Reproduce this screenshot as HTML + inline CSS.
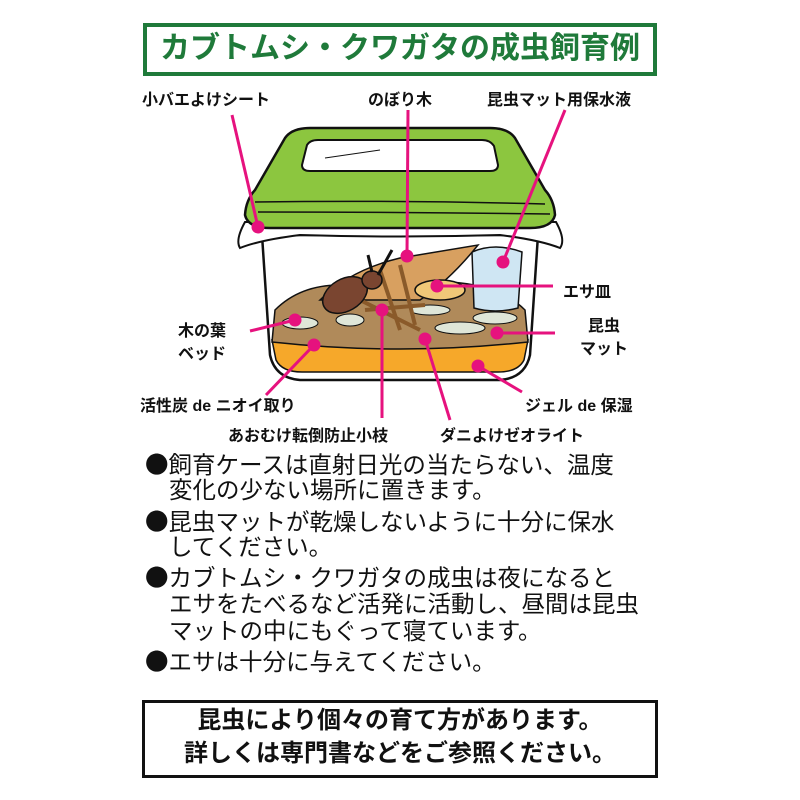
<!DOCTYPE html>
<html><head><meta charset="utf-8"><style>
body{margin:0;background:#fff;width:800px;height:800px;overflow:hidden;position:relative;font-family:"Liberation Sans","Noto Sans CJK JP",sans-serif}
.t{position:absolute;white-space:nowrap}
.lb{font-size:16px;font-weight:bold;color:#111}
.bd{position:absolute;white-space:nowrap;font-size:23.5px;color:#111;line-height:28px;height:28px;left:145px}
.bl{font-family:"Noto Sans CJK JP",sans-serif;line-height:28px}
</style></head><body>
<div class="t" style="left:143px;top:23px;width:506px;height:45px;border:4px solid #1f7a3a;"></div>
<div class="t" style="left:147px;top:26px;width:506px;text-align:center;font-size:30px;font-weight:bold;color:#1f7a3a;line-height:46px">カブトムシ・クワガタの成虫飼育例</div>

<svg class="t" style="left:0;top:0" width="800" height="460">
<path d="M262 235 L270 355 Q275 378 300 380 L500 380 Q525 378 530 355 L538 235 Z" fill="#fff" stroke="#111" stroke-width="2.5"/>
<path d="M272 340 Q400 355 528 340 L524 360 Q518 372 498 372 L302 372 Q282 372 276 360 Z" fill="#f6a82a" stroke="#111" stroke-width="1.5"/>
<path d="M275 310 Q300 285 340 285 L380 290 L450 282 Q500 285 525 310 L528 342 Q400 356 272 342 Z" fill="#b08a5a" stroke="#111" stroke-width="1.5"/>
<ellipse cx="300" cy="323" rx="18" ry="6" fill="#dfe6d8" stroke="#111"/>
<ellipse cx="460" cy="328" rx="25" ry="6" fill="#dfe6d8" stroke="#111"/>
<ellipse cx="495" cy="318" rx="22" ry="6" fill="#dfe6d8" stroke="#111"/>
<ellipse cx="430" cy="310" rx="20" ry="5" fill="#dfe6d8" stroke="#111"/>
<ellipse cx="350" cy="320" rx="14" ry="6" fill="#dfe6d8" stroke="#111"/>
<path d="M472 252 Q495 242 522 252 L518 308 Q495 314 474 308 Z" fill="#cfe6f3" stroke="#111" stroke-width="1.5"/>
<path d="M320 300 Q350 270 400 258 L478 245 Q450 280 420 300 Z" fill="#d8a060" stroke="#111" stroke-width="1.5"/>
<ellipse cx="440" cy="290" rx="25" ry="10" fill="#f0c878" stroke="#111" stroke-width="1.5"/>
<g stroke="#8a5a2a" stroke-width="4"><line x1="360" y1="300" x2="420" y2="330"/><line x1="380" y1="270" x2="400" y2="330"/><line x1="400" y1="265" x2="415" y2="325"/><line x1="365" y1="310" x2="425" y2="305"/></g>
<ellipse cx="345" cy="295" rx="24" ry="16" fill="#7a4530" stroke="#111" stroke-width="1.5" transform="rotate(-30 345 295)"/>
<ellipse cx="372" cy="280" rx="10" ry="9" fill="#7a4530" stroke="#111" stroke-width="1.5"/>
<path d="M372 272 L368 255 M378 275 L392 250" stroke="#111" stroke-width="3" fill="none"/>
<path d="M245 222 Q235 240 240 248 Q260 240 300 235 Q400 238 500 235 Q540 240 560 248 Q566 240 556 222 Z" fill="#fff" stroke="#111" stroke-width="2"/>
<path d="M245 215 Q246 200 255 190 L285 138 Q292 128 310 128 L490 128 Q508 128 515 138 L545 190 Q554 200 555 215 Q552 228 530 228 L270 228 Q248 228 245 215 Z" fill="#8cc63f" stroke="#111" stroke-width="2.5"/>
<path d="M307 145 Q310 140 318 140 L482 140 Q490 140 494 146 L498 165 Q498 171 490 171 L310 171 Q302 171 302 165 Z" fill="#fff" stroke="#111" stroke-width="2"/>
<path d="M255 202 Q400 200 545 204 M258 212 Q400 212 550 214" stroke="#111" stroke-width="1.5" fill="none"/>
<line x1="325" y1="158" x2="380" y2="150" stroke="#111"/>
<g stroke="#e6127e" stroke-width="3" fill="#e6127e">
<line x1="232" y1="115" x2="258" y2="227"/><circle cx="258" cy="227" r="5"/>
<line x1="408" y1="110" x2="407" y2="256"/><circle cx="407" cy="256" r="5"/>
<line x1="565" y1="110" x2="503" y2="262"/><circle cx="503" cy="262" r="5"/>
<line x1="437" y1="286" x2="553" y2="286"/><circle cx="437" cy="286" r="5"/>
<line x1="497" y1="333" x2="555" y2="333"/><circle cx="497" cy="333" r="5"/>
<line x1="250" y1="331" x2="295" y2="320"/><circle cx="295" cy="320" r="5"/>
<line x1="266" y1="395" x2="314" y2="345"/><circle cx="314" cy="345" r="5"/>
<line x1="382" y1="310" x2="382" y2="418"/><circle cx="382" cy="310" r="5"/>
<line x1="425" y1="339" x2="450" y2="420"/><circle cx="425" cy="339" r="5"/>
<line x1="478" y1="366" x2="522" y2="392"/><circle cx="478" cy="366" r="5"/>
</g>
</svg>

<div class="t lb" style="left:142px;top:86px">小バエよけシート</div>
<div class="t lb" style="left:368px;top:86px">のぼり木</div>
<div class="t lb" style="left:487px;top:86px">昆虫マット用保水液</div>
<div class="t lb" style="left:563px;top:278px">エサ皿</div>
<div class="t lb" style="left:580px;top:315px;line-height:23px;text-align:center">昆虫<br>マット</div>
<div class="t lb" style="left:178px;top:320px;line-height:23px">木の葉<br>ベッド</div>
<div class="t lb" style="left:140px;top:392px">活性炭 de ニオイ取り</div>
<div class="t lb" style="left:525px;top:392px">ジェル de 保湿</div>
<div class="t lb" style="left:228px;top:422px">あおむけ転倒防止小枝</div>
<div class="t lb" style="left:440px;top:422px">ダニよけゼオライト</div>

<div class="bd" style="top:449px"><span class="bl">●</span>飼育ケースは直射日光の当たらない、温度</div>
<div class="bd" style="top:476px;left:169px">変化の少ない場所に置きます。</div>
<div class="bd" style="top:506px"><span class="bl">●</span>昆虫マットが乾燥しないように十分に保水</div>
<div class="bd" style="top:533px;left:169px">してください。</div>
<div class="bd" style="top:562px"><span class="bl">●</span>カブトムシ・クワガタの成虫は夜になると</div>
<div class="bd" style="top:590px;left:169px">エサをたべるなど活発に活動し、昼間は昆虫</div>
<div class="bd" style="top:617px;left:169px">マットの中にもぐって寝ています。</div>
<div class="bd" style="top:646px"><span class="bl">●</span>エサは十分に与えてください。</div>

<div class="t" style="left:142px;top:700px;width:510px;height:72px;border:3px solid #111"></div>
<div class="t" style="left:142px;top:704px;width:516px;text-align:center;font-size:24px;font-weight:bold;line-height:33px;color:#111">昆虫により個々の育て方があります。<br>詳しくは専門書などをご参照ください。</div>
</body></html>
